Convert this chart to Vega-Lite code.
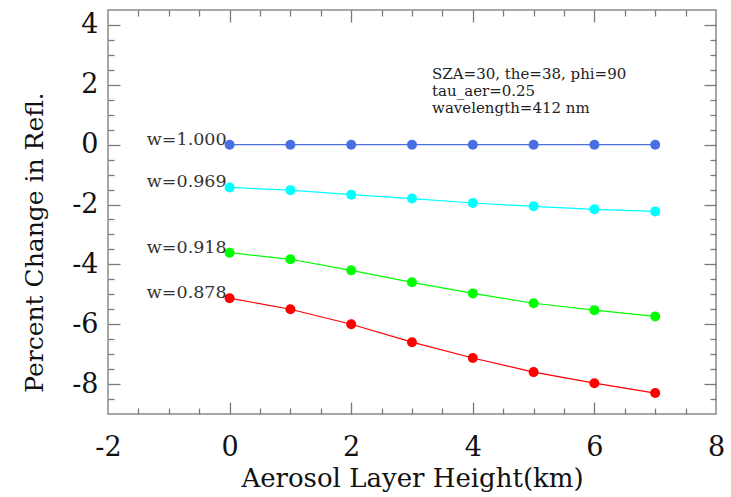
{
  "$schema": "https://vega.github.io/schema/vega-lite/v6.json",
  "width": 608,
  "height": 404,
  "autosize": {"type": "none"},
  "padding": {"left": 108, "top": 10, "right": 15, "bottom": 83},
  "background": "white",
  "config": {
    "view": {"stroke": "#8a8a8a", "strokeWidth": 1.5},
    "font": "DejaVu Serif",
    "axis": {"domain": false, "grid": false, "tickColor": "#7a7a7a", "tickWidth": 1.3}
  },
  "datasets": {
    "curves": [
      {"h": 0, "pct": 0, "series": "w=1.000"},
      {"h": 1, "pct": 0, "series": "w=1.000"},
      {"h": 2, "pct": 0, "series": "w=1.000"},
      {"h": 3, "pct": 0, "series": "w=1.000"},
      {"h": 4, "pct": 0, "series": "w=1.000"},
      {"h": 5, "pct": 0, "series": "w=1.000"},
      {"h": 6, "pct": 0, "series": "w=1.000"},
      {"h": 7, "pct": 0, "series": "w=1.000"},
      {"h": 0, "pct": -1.43, "series": "w=0.969"},
      {"h": 1, "pct": -1.52, "series": "w=0.969"},
      {"h": 2, "pct": -1.67, "series": "w=0.969"},
      {"h": 3, "pct": -1.80, "series": "w=0.969"},
      {"h": 4, "pct": -1.95, "series": "w=0.969"},
      {"h": 5, "pct": -2.06, "series": "w=0.969"},
      {"h": 6, "pct": -2.16, "series": "w=0.969"},
      {"h": 7, "pct": -2.23, "series": "w=0.969"},
      {"h": 0, "pct": -3.61, "series": "w=0.918"},
      {"h": 1, "pct": -3.83, "series": "w=0.918"},
      {"h": 2, "pct": -4.20, "series": "w=0.918"},
      {"h": 3, "pct": -4.60, "series": "w=0.918"},
      {"h": 4, "pct": -4.97, "series": "w=0.918"},
      {"h": 5, "pct": -5.30, "series": "w=0.918"},
      {"h": 6, "pct": -5.53, "series": "w=0.918"},
      {"h": 7, "pct": -5.74, "series": "w=0.918"},
      {"h": 0, "pct": -5.13, "series": "w=0.878"},
      {"h": 1, "pct": -5.50, "series": "w=0.878"},
      {"h": 2, "pct": -6.00, "series": "w=0.878"},
      {"h": 3, "pct": -6.60, "series": "w=0.878"},
      {"h": 4, "pct": -7.13, "series": "w=0.878"},
      {"h": 5, "pct": -7.60, "series": "w=0.878"},
      {"h": 6, "pct": -7.97, "series": "w=0.878"},
      {"h": 7, "pct": -8.30, "series": "w=0.878"}
    ],
    "notes": [
      {"h": 3.33, "pct": 2.2, "text": "SZA=30, the=38, phi=90"},
      {"h": 3.33, "pct": 1.633, "text": "tau_aer=0.25"},
      {"h": 3.33, "pct": 1.067, "text": "wavelength=412 nm"}
    ]
  },
  "resolve": {"axis": {"x": "independent", "y": "independent"}},
  "layer": [
    {
      "data": {"name": "curves"},
      "mark": {"type": "line", "strokeWidth": 1.2},
      "encoding": {
        "x": {
          "field": "h", "type": "quantitative",
          "scale": {"domain": [-2, 8], "nice": false, "zero": false},
          "axis": {
            "orient": "bottom", "values": [-2, 0, 2, 4, 6, 8], "ticks": false,
            "labelExpr": "toString(datum.value)",
            "labelFontSize": 27, "labelColor": "#111", "labelPadding": 20, "labelFlush": false,
            "title": "Aerosol Layer Height(km)", "titleFontSize": 26, "titleFontWeight": "normal",
            "titleColor": "#111", "titlePadding": 5
          }
        },
        "y": {
          "field": "pct", "type": "quantitative",
          "scale": {"domain": [-9, 4.5], "nice": false, "zero": false},
          "axis": {
            "orient": "left", "values": [-8, -6, -4, -2, 0, 2, 4], "ticks": false,
            "labelExpr": "toString(datum.value)",
            "labelFontSize": 27, "labelColor": "#111", "labelPadding": 10, "labelFlush": false,
            "title": "Percent Change in Refl.", "titleFontSize": 25, "titleFontWeight": "normal",
            "titleColor": "#111", "titlePadding": 24, "titleY": 232
          }
        },
        "color": {
          "field": "series", "type": "nominal", "legend": null,
          "scale": {"domain": ["w=1.000", "w=0.969", "w=0.918", "w=0.878"], "range": ["#4a6fe3", "#00ffff", "#00ff00", "#ff0000"]}
        },
        "detail": {"field": "series"}
      }
    },
    {
      "data": {"name": "curves"},
      "mark": {"type": "point", "filled": true, "size": 100, "opacity": 1},
      "encoding": {
        "x": {
          "field": "h", "type": "quantitative",
          "axis": {
            "orient": "bottom", "labels": false, "title": null,
            "values": [-1.5, -1, -0.5, 0, 0.5, 1, 1.5, 2, 2.5, 3, 3.5, 4, 4.5, 5, 5.5, 6, 6.5, 7, 7.5],
            "tickSize": {"condition": {"test": "abs(datum.value % 2) < 0.01", "value": -12}, "value": -6}
          }
        },
        "y": {
          "field": "pct", "type": "quantitative",
          "axis": {
            "orient": "left", "labels": false, "title": null,
            "values": [-8.5, -8, -7.5, -7, -6.5, -6, -5.5, -5, -4.5, -4, -3.5, -3, -2.5, -2, -1.5, -1, -0.5, 0, 0.5, 1, 1.5, 2, 2.5, 3, 3.5, 4],
            "tickSize": {"condition": {"test": "abs(datum.value % 2) < 0.01", "value": -12}, "value": -6}
          }
        },
        "color": {"field": "series", "type": "nominal", "legend": null}
      }
    },
    {
      "data": {"name": "curves"},
      "transform": [{"filter": "datum.h === 0"}],
      "mark": {"type": "text", "align": "right", "baseline": "alphabetic", "dx": -3, "dy": 0, "fontSize": 17.5, "color": "#333"},
      "encoding": {
        "x": {
          "field": "h", "type": "quantitative",
          "axis": {
            "orient": "top", "labels": false, "title": null,
            "values": [-1.5, -1, -0.5, 0, 0.5, 1, 1.5, 2, 2.5, 3, 3.5, 4, 4.5, 5, 5.5, 6, 6.5, 7, 7.5],
            "tickSize": {"condition": {"test": "abs(datum.value % 2) < 0.01", "value": -12}, "value": -6}
          }
        },
        "y": {
          "field": "pct", "type": "quantitative",
          "axis": {
            "orient": "right", "labels": false, "title": null,
            "values": [-8.5, -8, -7.5, -7, -6.5, -6, -5.5, -5, -4.5, -4, -3.5, -3, -2.5, -2, -1.5, -1, -0.5, 0, 0.5, 1, 1.5, 2, 2.5, 3, 3.5, 4],
            "tickSize": {"condition": {"test": "abs(datum.value % 2) < 0.01", "value": -12}, "value": -6}
          }
        },
        "text": {"field": "series"}
      }
    },
    {
      "data": {"name": "notes"},
      "mark": {"type": "text", "align": "left", "baseline": "alphabetic", "fontSize": 15, "color": "#222"},
      "encoding": {
        "x": {"field": "h", "type": "quantitative", "axis": null},
        "y": {"field": "pct", "type": "quantitative", "axis": null},
        "text": {"field": "text"}
      }
    }
  ]
}
